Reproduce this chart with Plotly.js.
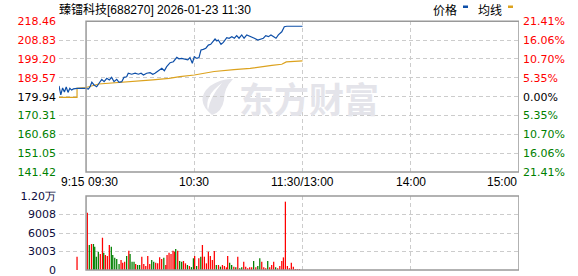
<!DOCTYPE html>
<html><head><meta charset="utf-8">
<script src="https://cdn.plot.ly/plotly-3.0.1.min.js"></script>
<style>html,body{margin:0;padding:0;background:#fff;}#chart{width:578px;height:276px;}</style>
</head><body><div id="chart"></div>
<script>
// ---------- data ----------
const titleText = '臻镭科技[688270] 2026-01-23 11:30';
const prevClose = 179.94;
// minutes since 09:30 (negative = pre-market auction, 120..240 = afternoon)
const priceTimes = [-15,-14,-13,-12,-11,-10,-9,-8,-7,-6,-5,0,
  1.3,2.2,3.2,4.4,5.9,7.2,8.7,10,11.5,12.9,14.2,15.5,17,18.3,19.8,21,22.5,23.4,25.3,27.2,29,30.5,31.8,33.6,35.5,37,38.2,
  40.1,42,43.4,44.7,46.6,48.4,50.3,51.5,53,54.9,56.4,57.6,58.9,60,61.4,62.6,63.7,65,66.4,67.8,69.1,70.2,71.5,72.5,73.3,
  74.8,76.1,78,79.3,80.8,82.2,83.5,84.8,86.3,87.6,89.1,90.4,91.8,93.3,95.2,97,98.3,99.6,101.1,102.5,103.8,105.3,106.6,
  108.5,109.9,111.3,120];
const prices = [185.4,180.8,184.4,182.3,184.9,182.1,184.2,183.3,183.9,184.1,184.2,184.2,
  183.85,185.0,187.3,185.9,185.0,186.8,188.8,187.6,189.3,188.5,189.8,187.6,188.8,187.3,187.6,189.8,190.1,191.9,191.4,191.9,191.4,191.9,191.0,191.9,192.2,191.4,191.9,
  193.2,194.4,193.2,195.3,197.3,197.8,200.0,199.3,199.5,199.0,198.7,199.9,197.0,200.4,199.5,199.9,203.8,204.1,204.7,206.3,206.7,208.0,209.4,208.4,208.9,
  206.7,207.7,210.1,209.8,210.6,209.8,211.1,209.8,211.5,209.8,211.5,211.1,210.6,209.8,208.9,209.4,209.8,211.1,210.6,211.5,210.6,209.8,211.5,
  213.1,215.7,215.93,215.93];
const avgTimes = [-15,-5,-5,0,7,20,30,37,46,52,60,71,82,91,103,108.5,111,120];
const avgPrices = [179.6,179.6,184.2,184.6,186.4,187.2,187.7,188.5,189.3,190.2,191.0,192.8,193.8,194.4,195.9,196.5,197.7,198.2];

const volTimes = [-5,
  0.7,1.8,3.0,4.1,4.8,5.7,6.8,7.9,9.1,9.8,10.7,11.8,12.9,14.0,14.8,15.9,17.0,18.3,19.4,20.3,21.4,22.5,23.7,24.4,25.5,26.6,27.5,28.6,29.7,
  30.9,32.0,33.1,34.2,35.3,36.4,37.5,38.6,39.7,40.8,41.9,43.1,44.2,44.9,46.0,47.1,48.2,49.0,49.7,50.8,51.9,53.0,54.0,55.1,56.2,57.3,58.4,59.5,
  60.2,61.3,62.5,63.6,64.5,65.6,66.7,67.8,68.9,70.0,71.1,72.2,73.4,74.5,75.6,76.7,77.8,78.5,79.6,80.7,81.9,83.0,84.1,85.2,86.3,87.4,88.5,89.6,
  90.7,91.8,92.9,94.1,95.2,96.3,97.4,98.5,99.6,100.7,101.8,102.9,104.0,105.1,106.2,107.4,108.5,109.4,110.5,111.6,112.7,113.8,114.9,116.0,117.1,118.3];
const volumes = [2160,
  9300,4060,4220,4220,3780,2160,2970,2600,5240,2810,
  2430,2270,4060,3780,2430,2000,1785,973,1620,1190,
  1350,2270,3130,2600,1350,1350,973,810,810,2160,
  973,650,2270,973,1620,1350,1190,1080,2050,1785,
  2000,810,2430,2810,2600,3130,2970,3410,3130,1460,
  1350,1460,1080,810,650,470,1900,2270,650,1900,
  2160,4060,2160,1080,2970,2270,1620,3080,810,810,
  540,810,650,430,2270,1190,810,540,430,2160,
  270,430,1350,540,270,430,430,1460,430,650,
  1900,1350,430,270,1460,430,810,1350,430,270,
  650,1460,2050,11090,650,270,1190,540,160,160,
  160];
const volDir = 'r'+
  'rgrggggrrg'+'rrrgggggrr'+'rgrgggrggr'+'rrrrggrrrr'+'grrrrrrgrg'+
  'grrgrggrgr'+'grrrrrrrgr'+'grrrrggrgr'+'ggrrrrrgrg'+'grrrgrrrgr'+
  'rrrrrrrrrr'+'r';

const priceTicks = [141.42,151.05,160.68,170.31,179.94,189.57,199.20,208.83,218.46];
const priceLabels = ['141.42','151.05','160.68','170.31','179.94','189.57','199.20','208.83','218.46'];
const pctLabels = ['21.41%','16.06%','10.70%','5.35%','0.00%','5.35%','10.70%','16.06%','21.41%'];
const volTicks = [0,3003,6005,9008,12011];
const volLabels = ['0','3003','6005','9008','1.20万'];
const timeTicks = [-15,0,60,120,180,240];
const timeLabels = ['9:15','09:30','10:30','11:30/13:00','14:00','15:00'];
const legendNames = ['价格','均线'];
const watermark = '东方财富';

// ---------- styling ----------
const W = 578, H = 276;
const RED = '#ff0000', GREEN = '#008000', BLUE = '#0e4fa8', GOLD = '#dca21e', WM = '#e4e4ea';
const px = x => x / W, py = y => (H - y) / H;
const colorFor = (i, mid) => i < mid ? GREEN : (i === mid ? '#000000' : RED);
const span = (t, c) => '<span style="color:' + c + '">' + t + '</span>';

const xDom = [px(59), px(519)];
const mainDom = [py(172), py(21.3)];
const volDom = [py(270), py(196)];
const gridStyle = {showgrid: true, gridcolor: '#cccccc', gridwidth: 1, griddash: '4px,3px', zeroline: false, showline: false, ticks: ''};
const tickFont = {family: 'DejaVu Sans, Verdana, sans-serif', size: 11, color: '#000'};

const traces = [
  {x: avgTimes, y: avgPrices, type: 'scatter', mode: 'lines', line: {color: GOLD, width: 1.2}, xaxis: 'x', yaxis: 'y', hoverinfo: 'skip'},
  {x: priceTimes, y: prices, type: 'scatter', mode: 'lines', line: {color: BLUE, width: 1.2}, xaxis: 'x', yaxis: 'y', hoverinfo: 'skip'},
  // percent scale on the right: same prices, drawn against the right-hand axis (invisible marks)
  {x: priceTimes, y: prices, type: 'scatter', mode: 'lines', line: {width: 0}, opacity: 0, xaxis: 'x', yaxis: 'y3', hoverinfo: 'skip'},
  {x: volTimes, y: volumes, type: 'bar', width: 0.7,
   marker: {color: volumes.map((v, i) => volDir[i] === 'g' ? GREEN : RED), line: {width: 0}},
   xaxis: 'x2', yaxis: 'y2', hoverinfo: 'skip'}
];

const annotations = [];
annotations.push({xref: 'paper', yref: 'paper', x: px(237), y: py(97.5), xanchor: 'left', yanchor: 'middle', showarrow: false,
  text: '<b>' + watermark + '</b>', font: {family: 'Noto Sans CJK SC', size: 35, color: WM}});
annotations.push({xref: 'paper', yref: 'paper', x: px(57), y: py(9), xanchor: 'left', yanchor: 'middle', showarrow: false,
  text: titleText, font: {family: 'Liberation Sans, Noto Sans CJK SC, sans-serif', size: 12, color: '#000'}});
annotations.push({xref: 'paper', yref: 'paper', x: px(431), y: py(9.5), xanchor: 'left', yanchor: 'middle', showarrow: false,
  text: legendNames[0], font: {family: 'Noto Sans CJK SC', size: 12, color: '#000'}});
annotations.push({xref: 'paper', yref: 'paper', x: px(476), y: py(9.5), xanchor: 'left', yanchor: 'middle', showarrow: false,
  text: legendNames[1], font: {family: 'Noto Sans CJK SC', size: 12, color: '#000'}});
const anchors = ['left','left','center','center','center','right'];
timeTicks.forEach((t, i) => {
  annotations.push({xref: 'x', yref: 'paper', x: t, y: py(182.5), xanchor: anchors[i], yanchor: 'middle', showarrow: false,
    text: timeLabels[i], font: {family: 'Liberation Sans, Arial, sans-serif', size: 12, color: '#000'}});
});

const P = (x, y) => px(x).toFixed(5) + ',' + py(y).toFixed(5);
const shapes = [
  {type: 'rect', xref: 'x', yref: 'y domain', x0: 0, x1: 240, y0: 0, y1: 1, line: {color: '#999999', width: 1.5}},
  {type: 'rect', xref: 'x2', yref: 'y2 domain', x0: 0, x1: 240, y0: 0, y1: 1, line: {color: '#999999', width: 1.5}},
  {type: 'rect', xref: 'paper', yref: 'paper', x0: px(463), x1: px(468), y0: py(8), y1: py(5.5), fillcolor: BLUE, line: {width: 0}},
  {type: 'rect', xref: 'paper', yref: 'paper', x0: px(508), x1: px(513), y0: py(8), y1: py(5.5), fillcolor: GOLD, line: {width: 0}},
  // watermark logo (leaf)
  {type: 'path', xref: 'paper', yref: 'paper', layer: 'below', fillcolor: WM, line: {width: 0},
   path: 'M' + P(212, 115) + ' Q' + P(194, 100) + ' ' + P(210, 86) + ' Q' + P(222, 78) + ' ' + P(233, 79) +
         ' Q' + P(224, 88) + ' ' + P(224, 100) + ' Q' + P(222, 112) + ' ' + P(212, 115) + ' Z'},
  {type: 'path', xref: 'paper', yref: 'paper', layer: 'below', fillcolor: '#ffffff', line: {width: 0},
   path: 'M' + P(208, 110) + ' Q' + P(204, 96) + ' ' + P(222, 83) + ' Q' + P(210, 97) + ' ' + P(208, 110) + ' Z'}
];

const layout = {
  width: W, height: H, margin: {l: 0, r: 0, t: 0, b: 0}, paper_bgcolor: '#fff', plot_bgcolor: 'rgba(0,0,0,0)',
  showlegend: false, annotations: annotations, shapes: shapes,
  xaxis: Object.assign({}, gridStyle, {domain: xDom, range: [-15, 240], anchor: 'y', tickvals: [-15, 60, 120, 180], showticklabels: false}),
  xaxis2: Object.assign({}, gridStyle, {domain: xDom, range: [-15, 240], anchor: 'y2', tickvals: [-15, 60, 120, 180], showticklabels: false}),
  yaxis: Object.assign({}, gridStyle, {domain: mainDom, range: [priceTicks[0], priceTicks[8]], anchor: 'x', side: 'left',
    tickvals: priceTicks, ticktext: priceLabels.map((t, i) => span(t, colorFor(i, 4))), tickfont: tickFont, ticklabelstandoff: 2}),
  yaxis3: {domain: mainDom, range: [priceTicks[0], priceTicks[8]], anchor: 'x', overlaying: 'y', side: 'right', showgrid: false, zeroline: false,
    showline: false, ticks: '', tickvals: priceTicks, ticktext: pctLabels.map((t, i) => span(t, colorFor(i, 4))), tickfont: tickFont,
    ticklabelstandoff: 3, ticklabeloverflow: 'allow'},
  yaxis2: Object.assign({}, gridStyle, {domain: volDom, range: [0, 12011], anchor: 'x2', side: 'left',
    tickvals: volTicks, ticktext: volLabels, tickfont: Object.assign({}, tickFont, {color: '#0b0b3b'}), ticklabelstandoff: 2,
    ticklabeloverflow: 'allow'})
};

Plotly.newPlot('chart', traces, layout, {staticPlot: true, displayModeBar: false});
</script></body></html>
